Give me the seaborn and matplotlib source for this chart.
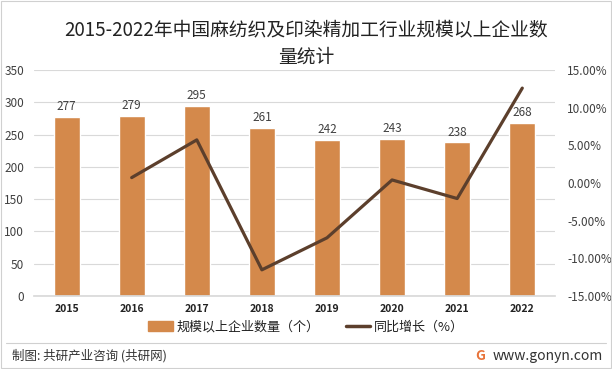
import matplotlib
matplotlib.use("Agg")
import matplotlib.pyplot as plt
import seaborn as sns
import pandas as pd
from matplotlib.ticker import FuncFormatter, MultipleLocator
from matplotlib.patches import Patch
from matplotlib.lines import Line2D

years = ["2015", "2016", "2017", "2018", "2019", "2020", "2021", "2022"]
counts = [277, 279, 295, 261, 242, 243, 238, 268]
growth_years = ["2016", "2017", "2018", "2019", "2020", "2021", "2022"]
growth = [0.72, 5.73, -11.53, -7.28, 0.41, -2.06, 12.61]

title = "2015-2022年中国麻纺织及印染精加工行业规模以上企业数\n量统计"
bar_label = "规模以上企业数量（个）"
line_label = "同比增长（%）"

sns.set_theme(style="white")
plt.rcParams['font.family'] = ['Noto Sans CJK SC', 'DejaVu Sans']

BAR = "#D4894B"
LINE = "#5C3F2C"
GRID = "#D9D9D9"
TXT = "#404040"

fig = plt.figure(figsize=(6.12, 3.69), dpi=100)
ax = fig.add_axes([0.0556, 0.198, 0.851, 0.612])

df = pd.DataFrame({"year": years, "count": counts})
sns.barplot(data=df, x="year", y="count", color=BAR, width=0.4, ax=ax,
            saturation=1, zorder=2)
ax.set_ylim(0, 350)
ax.yaxis.set_major_locator(MultipleLocator(50))
ax.grid(axis="y", color=GRID, linewidth=0.8, zorder=0)
ax.set_axisbelow(True)
for s in ["top", "right", "left"]:
    ax.spines[s].set_visible(False)
ax.spines["bottom"].set_color(GRID)
ax.set_xlabel("")
ax.set_ylabel("")
ax.tick_params(axis="y", length=0, labelsize=8.5, labelcolor=TXT, pad=7)
ax.tick_params(axis="x", length=0, labelsize=7.5, labelcolor="#222222", pad=6)
for lab in ax.get_xticklabels():
    lab.set_fontweight("bold")
ax.set_xlim(-0.5, len(years) - 0.5)

for i, v in enumerate(counts):
    ax.text(i, v + 6, str(v), ha="center", va="bottom", fontsize=8.5, color=TXT)

ax2 = ax.twinx()
gx = [years.index(y) for y in growth_years]
gdf = pd.DataFrame({"x": gx, "g": growth})
sns.lineplot(data=gdf, x="x", y="g", color=LINE, linewidth=2.3, ax=ax2, zorder=3)
ax2.set_ylim(-15, 15)
ax2.yaxis.set_major_locator(MultipleLocator(5))
ax2.yaxis.set_major_formatter(FuncFormatter(lambda v, p: f"{v:.2f}%"))
ax2.tick_params(axis="y", length=0, labelsize=8.5, labelcolor=TXT, pad=9)
for s in ["top", "right", "left", "bottom"]:
    ax2.spines[s].set_visible(False)
ax2.set_ylabel("")
ax2.set_xlabel("")
ax2.grid(False)
ax2.set_xlim(-0.5, len(years) - 0.5)

fig.text(0.5, 0.882, title, ha="center", va="center", fontsize=13.5,
         color="#222222", linespacing=1.45)

handles = [Patch(facecolor=BAR, edgecolor=BAR),
           Line2D([0], [0], color=LINE, linewidth=2.5)]
fig.legend(handles, [bar_label, line_label], loc="center",
           bbox_to_anchor=(0.5, 0.113), ncol=2, frameon=False, fontsize=9.4,
           handlelength=1.9, handleheight=0.8, columnspacing=2.0,
           handletextpad=0.3, labelcolor="#222222")

fig.add_artist(Line2D([0.01, 0.99], [0.07, 0.07], transform=fig.transFigure,
                      color="#D0D0D0", linewidth=0.8))
fig.text(0.02, 0.035, "制图: 共研产业咨询 (共研网)", ha="left", va="center",
         fontsize=9, color="#333333")
fig.text(0.985, 0.035, "www.gonyn.com", ha="right", va="center",
         fontsize=10, color="#333333")
fig.text(0.785, 0.035, "G", ha="center", va="center", fontsize=10,
         color="#E8743B", fontweight="bold")

fig.add_artist(plt.Rectangle((0.002, 0.003), 0.996, 0.994, transform=fig.transFigure,
                             fill=False, edgecolor="#D0D0D0", linewidth=0.8))

fig.savefig("out.png", dpi=100)
